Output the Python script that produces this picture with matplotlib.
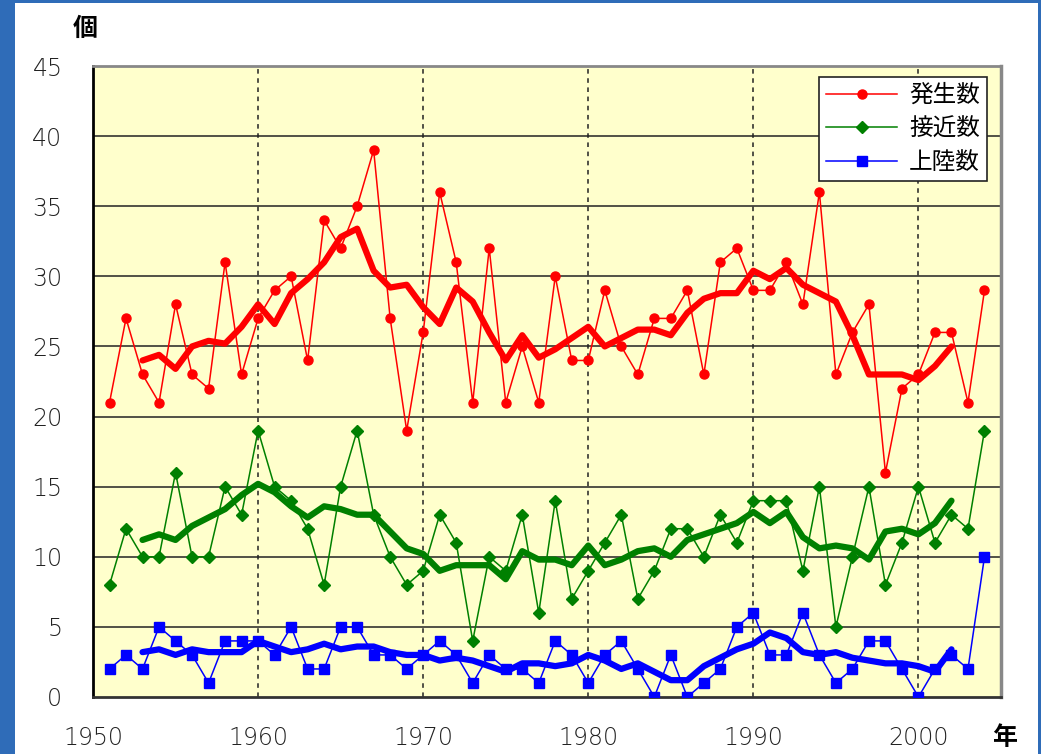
import numpy as np
import pandas as pd
import matplotlib
matplotlib.use("Agg")
import matplotlib.pyplot as plt
from matplotlib.patches import Rectangle

plt.rcParams['font.family'] = ['Noto Sans CJK JP', 'DejaVu Sans']

# typhoon counts 1951-2004
years = list(range(1951, 2005))
hassei = [21, 27, 23, 21, 28, 23, 22, 31, 23, 27,
          29, 30, 24, 34, 32, 35, 39, 27, 19, 26,
          36, 31, 21, 32, 21, 25, 21, 30, 24, 24,
          29, 25, 23, 27, 27, 29, 23, 31, 32, 29,
          29, 31, 28, 36, 23, 26, 28, 16, 22, 23,
          26, 26, 21, 29]
sekkin = [8, 12, 10, 10, 16, 10, 10, 15, 13, 19,
          15, 14, 12, 8, 15, 19, 13, 10, 8, 9,
          13, 11, 4, 10, 9, 13, 6, 14, 7, 9,
          11, 13, 7, 9, 12, 12, 10, 13, 11, 14,
          14, 14, 9, 15, 5, 10, 15, 8, 11, 15,
          11, 13, 12, 19]
jouriku = [2, 3, 2, 5, 4, 3, 1, 4, 4, 4,
           3, 5, 2, 2, 5, 5, 3, 3, 2, 3,
           4, 3, 1, 3, 2, 2, 1, 4, 3, 1,
           3, 4, 2, 0, 3, 0, 1, 2, 5, 6,
           3, 3, 6, 3, 1, 2, 4, 4, 2, 0,
           2, 3, 2, 10]
labels = ['発生数', '接近数', '上陸数']
colors = ['#FF0000', '#008000', '#0000FF']
markers = ['o', 'D', 's']
msizes = [6.5, 6.5, 7]

fig = plt.figure(figsize=(10.41, 7.54), dpi=100)
fig.patch.set_facecolor('#2f6cb8')
fig.patches.append(Rectangle((15 / 1041, 0), 1023 / 1041, 1 - 3 / 754,
                             transform=fig.transFigure, facecolor='white',
                             edgecolor='none', zorder=-10))

ax = fig.add_axes([93 / 1041, 1 - 697 / 754, 908 / 1041, 631 / 754])
ax.set_facecolor('#FFFFCC')

series = [hassei, sekkin, jouriku]
for vals, lab, c, m, ms in zip(series, labels, colors, markers, msizes):
    ax.plot(years, vals, color=c, lw=1.1, marker=m, ms=ms, label=lab, zorder=3)
for vals, c in zip(series, colors):
    ma = pd.Series(vals).rolling(5, center=True).mean()
    ax.plot(years, ma, color=c, lw=4.5, solid_joinstyle='round',
            solid_capstyle='round', zorder=4)

ax.set_xlim(1950, 2005)
ax.set_ylim(0, 45)
ax.set_yticks(range(0, 46, 5))
ax.set_xticks(range(1950, 2001, 10))
for y in range(5, 45, 5):
    ax.axhline(y, color='#222222', lw=1.1, zorder=1)
for x in range(1960, 2001, 10):
    ax.axvline(x, color='#222222', lw=1.1, ls=(0, (3, 3)), zorder=1)

ax.tick_params(length=0, labelsize=17, colors='#222222')
ax.tick_params(axis='y', pad=22)
ax.tick_params(axis='x', pad=21)
for lbl in ax.get_xticklabels() + ax.get_yticklabels():
    lbl.set_fontfamily(['DejaVu Sans'])
    lbl.set_fontweight('light')

ax.spines['left'].set_color('black')
ax.spines['left'].set_linewidth(2)
ax.spines['bottom'].set_color('#333333')
ax.spines['bottom'].set_linewidth(2)
ax.spines['top'].set_color('#888888')
ax.spines['top'].set_linewidth(2)
ax.spines['right'].set_color('#888888')
ax.spines['right'].set_linewidth(2.5)

fig.text(85 / 1041, 1 - 29 / 754, '個', fontsize=18, fontweight='bold',
         ha='center', va='center')
fig.text(1005 / 1041, 1 - 738 / 754, '年', fontsize=18, fontweight='bold',
         ha='center', va='center')

leg = ax.legend(loc='upper right', fontsize=17, frameon=True,
                fancybox=False, edgecolor='#222222', framealpha=1,
                handlelength=3.0, handletextpad=0.5, borderpad=0.3,
                labelspacing=0.45, borderaxespad=0)
leg.set_bbox_to_anchor((987 / 1041, 1 - 77 / 754), transform=fig.transFigure)
leg.get_frame().set_linewidth(1.2)
leg.set_zorder(6)

fig.savefig('out.png', dpi=100, facecolor=fig.get_facecolor())
